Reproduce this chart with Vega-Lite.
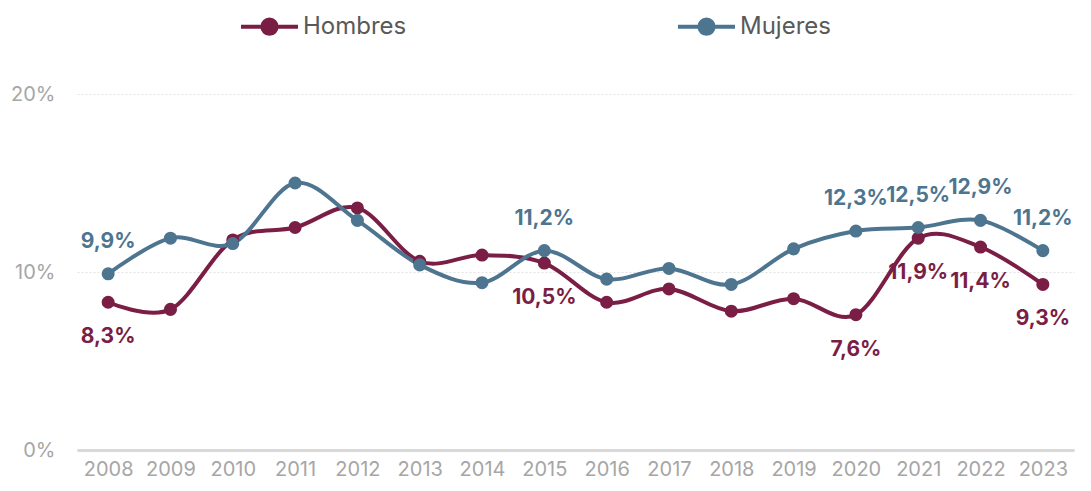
{
  "$schema": "https://vega.github.io/schema/vega-lite/v6.json",
  "width": 997,
  "height": 356,
  "autosize": {"type": "none"},
  "padding": {"left": 77, "top": 94, "right": 17, "bottom": 41},
  "config": {"view": {"stroke": null}, "font": "Inter"},
  "data": {
    "values": [
      {"year": "2008", "sexo": "Hombres", "valor": 8.3, "label": "8,3%"},
      {"year": "2009", "sexo": "Hombres", "valor": 7.9, "label": null},
      {"year": "2010", "sexo": "Hombres", "valor": 11.8, "label": null},
      {"year": "2011", "sexo": "Hombres", "valor": 12.5, "label": null},
      {"year": "2012", "sexo": "Hombres", "valor": 13.6, "label": null},
      {"year": "2013", "sexo": "Hombres", "valor": 10.6, "label": null},
      {"year": "2014", "sexo": "Hombres", "valor": 10.95, "label": null},
      {"year": "2015", "sexo": "Hombres", "valor": 10.5, "label": "10,5%"},
      {"year": "2016", "sexo": "Hombres", "valor": 8.3, "label": null},
      {"year": "2017", "sexo": "Hombres", "valor": 9.05, "label": null},
      {"year": "2018", "sexo": "Hombres", "valor": 7.8, "label": null},
      {"year": "2019", "sexo": "Hombres", "valor": 8.5, "label": null},
      {"year": "2020", "sexo": "Hombres", "valor": 7.6, "label": "7,6%"},
      {"year": "2021", "sexo": "Hombres", "valor": 11.9, "label": "11,9%"},
      {"year": "2022", "sexo": "Hombres", "valor": 11.4, "label": "11,4%"},
      {"year": "2023", "sexo": "Hombres", "valor": 9.3, "label": "9,3%"},
      {"year": "2008", "sexo": "Mujeres", "valor": 9.9, "label": "9,9%"},
      {"year": "2009", "sexo": "Mujeres", "valor": 11.9, "label": null},
      {"year": "2010", "sexo": "Mujeres", "valor": 11.6, "label": null},
      {"year": "2011", "sexo": "Mujeres", "valor": 15.0, "label": null},
      {"year": "2012", "sexo": "Mujeres", "valor": 12.9, "label": null},
      {"year": "2013", "sexo": "Mujeres", "valor": 10.4, "label": null},
      {"year": "2014", "sexo": "Mujeres", "valor": 9.4, "label": null},
      {"year": "2015", "sexo": "Mujeres", "valor": 11.2, "label": "11,2%"},
      {"year": "2016", "sexo": "Mujeres", "valor": 9.6, "label": null},
      {"year": "2017", "sexo": "Mujeres", "valor": 10.2, "label": null},
      {"year": "2018", "sexo": "Mujeres", "valor": 9.3, "label": null},
      {"year": "2019", "sexo": "Mujeres", "valor": 11.3, "label": null},
      {"year": "2020", "sexo": "Mujeres", "valor": 12.3, "label": "12,3%"},
      {"year": "2021", "sexo": "Mujeres", "valor": 12.5, "label": "12,5%"},
      {"year": "2022", "sexo": "Mujeres", "valor": 12.9, "label": "12,9%"},
      {"year": "2023", "sexo": "Mujeres", "valor": 11.2, "label": "11,2%"}
    ]
  },
  "encoding": {
    "x": {
      "field": "year",
      "type": "ordinal",
      "title": null,
      "axis": {
        "labelAngle": 0,
        "labelColor": "#A6A6A6",
        "labelFontSize": 20,
        "labelPadding": 9,
        "ticks": false,
        "domainColor": "#D9D9D9",
        "domainWidth": 3,
        "grid": false
      }
    },
    "y": {
      "field": "valor",
      "type": "quantitative",
      "title": null,
      "scale": {"domain": [0, 20]},
      "axis": {
        "values": [0, 10, 20],
        "labelExpr": "datum.value + '%'",
        "labelColor": "#A6A6A6",
        "labelFontSize": 20,
        "labelPadding": 22,
        "ticks": false,
        "domain": false,
        "grid": true,
        "gridColor": "#E3E3E3",
        "gridDash": [2, 2],
        "gridWidth": 1
      }
    },
    "color": {
      "field": "sexo",
      "type": "nominal",
      "scale": {"domain": ["Hombres", "Mujeres"], "range": ["#7A1E45", "#4D7590"]}
    }
  },
  "layer": [
    {
      "mark": {"type": "line", "interpolate": "cardinal", "strokeWidth": 4, "point": {"filled": true, "size": 170, "opacity": 1}},
      "encoding": {
        "color": {
          "field": "sexo",
          "type": "nominal",
          "scale": {"domain": ["Hombres", "Mujeres"], "range": ["#7A1E45", "#4D7590"]},
          "legend": {
            "title": null,
            "orient": "none",
            "direction": "horizontal",
            "legendX": 162,
            "legendY": -98,
            "padding": 0,
            "symbolType": "M -1 0 L 1 0 M -0.25 0 A 0.25 0.25 0 1 0 0.25 0 A 0.25 0.25 0 1 0 -0.25 0 Z",
            "symbolSize": 3249,
            "symbolStrokeWidth": 4,
            "labelFontSize": 24,
            "labelColor": "#595959",
            "labelOffset": 3,
            "columnPadding": 263,
            "encode": {
              "symbols": {
                "update": {
                  "fill": {"scale": "color", "field": "value"},
                  "fillOpacity": {"value": 1},
                  "opacity": {"value": 1}
                }
              }
            }
          }
        }
      }
    },
    {
      "transform": [{"filter": "datum.sexo == 'Mujeres' && datum.label != null"}],
      "mark": {"type": "text", "fontSize": 21, "fontWeight": "bold", "dy": -32, "baseline": "middle"},
      "encoding": {"text": {"field": "label"}}
    },
    {
      "transform": [{"filter": "datum.sexo == 'Hombres' && datum.label != null"}],
      "mark": {"type": "text", "fontSize": 21, "fontWeight": "bold", "dy": 35, "baseline": "middle"},
      "encoding": {"text": {"field": "label"}}
    }
  ]
}
